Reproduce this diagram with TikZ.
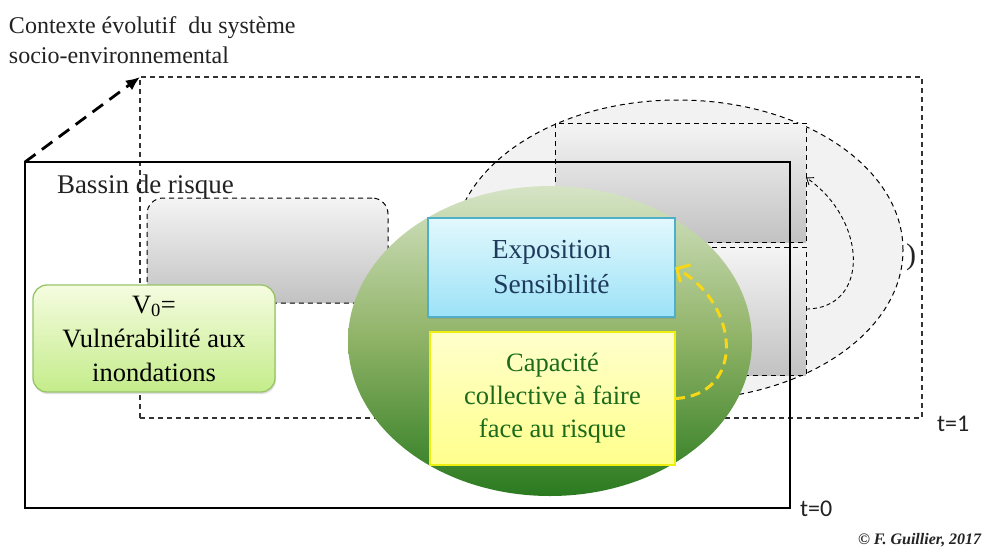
\documentclass[tikz,border=0pt]{standalone}
\usepackage{fontspec}
\setmainfont{Liberation Serif}
\newfontfamily\labelfont{Carlito}
\usetikzlibrary{arrows.meta,shapes.geometric,shadows}

\definecolor{inkgray}{HTML}{222222}
\definecolor{frameline}{HTML}{333333}
\definecolor{ctxfill}{HTML}{F2F2F2}
\definecolor{greytop}{HTML}{F4F4F4}
\definecolor{greybot}{HTML}{C2C2C2}
\definecolor{coretop}{HTML}{D6E4C6}
\definecolor{coremid}{HTML}{8EB265}
\definecolor{corebot}{HTML}{2A7A20}
\definecolor{expotop}{HTML}{E2F8FD}
\definecolor{expobot}{HTML}{9CE2F7}
\definecolor{expoline}{HTML}{4FAFCB}
\definecolor{expotext}{HTML}{1F3B5C}
\definecolor{capatop}{HTML}{FFFFCC}
\definecolor{capabot}{HTML}{FFFF8C}
\definecolor{capaline}{HTML}{EEEE10}
\definecolor{capatext}{HTML}{1B6B1B}
\definecolor{vtop}{HTML}{F5FCE0}
\definecolor{vbot}{HTML}{C4EC8A}
\definecolor{vline}{HTML}{98C468}
\definecolor{arrowyellow}{HTML}{F7D716}

\begin{document}
\begin{tikzpicture}[x=1pt,y=-1pt,
  every node/.style={inner sep=0pt,outer sep=0pt},
  frameone/.style={draw=frameline,line width=1.2pt,dash pattern=on 5pt off 4pt},
  framezero/.style={draw=black,line width=2.8pt},
  greybox/.style={draw=black,line width=1pt,dash pattern=on 5pt off 4pt,
    top color=greytop,bottom color=greybot},
  itembox/.style={align=center,line width=1.3pt},
  softshadow/.style={drop shadow={opacity=0.25,shadow xshift=1pt,shadow yshift=-2pt}},
  plaintext/.style={anchor=base west,text=inkgray}
]
\useasboundingbox (0,0) rectangle (993,547);

% time frames and the evolving context
\node[frameone,minimum width=782pt,minimum height=341pt] (tone) at (531,247.5) {};
\node[ellipse,draw=black,fill=ctxfill,line width=1pt,dash pattern=on 5pt off 4pt,
      minimum width=450pt,minimum height=300pt] (ctx) at (678,250) {};
\node[greybox,minimum width=251pt,minimum height=119pt] (upper) at (680.5,182.5) {};
\node[greybox,minimum width=251pt,minimum height=128pt] (lower) at (680.5,311) {};
\node[greybox,rounded corners=16pt,minimum width=241pt,minimum height=105pt] (past) at (267.5,250.5) {};
\node[framezero,minimum width=765pt,minimum height=346pt] (tzero) at (407.5,335) {};

% feedback loop between the two future states
\draw[line width=0.9pt,dash pattern=on 4pt off 3pt,-{Straight Barb[length=6pt,width=9pt]}]
  ([yshift=2pt]lower.east) .. controls +(64,0) and +(62,43) .. ([yshift=5pt]upper.east);

% core of the vulnerability
\node[ellipse,top color=coretop,bottom color=corebot,middle color=coremid,
      minimum width=404pt,minimum height=310pt] (core) at (550,341) {};
\node[itembox,draw=expoline,top color=expotop,bottom color=expobot,text=expotext,
      minimum width=247pt,minimum height=99pt,softshadow,
      font=\fontsize{27.5}{35}\selectfont] (expo) at (551.5,267.5)
  {Exposition\\Sensibilité};
\node[itembox,draw=capaline,top color=capatop,bottom color=capabot,text=capatext,
      minimum width=245pt,minimum height=133pt,font=\fontsize{26.5}{33}\selectfont] (capa) at (552.5,398.5)
  {Capacité\\collective à faire\\face au risque};
\draw[arrowyellow,line width=3pt,dash pattern=on 10pt off 6pt,
      -{Straight Barb[length=10pt,width=20pt,line width=3pt]}]
  (capa.east) .. controls +(70,-3) and +(66,38) .. (expo.east);

% initial vulnerability
\node[itembox,draw=vline,rounded corners=14pt,top color=vtop,bottom color=vbot,text=black,
      minimum width=242pt,minimum height=107pt,font=\fontsize{26.5}{34}\selectfont,
      softshadow] (vzero) at (154,338.5)
  {V\textsubscript{0}=\\Vulnérabilité aux\\inondations};

% passage from t=0 to t=1
\draw[line width=2.8pt,dash pattern=on 13pt off 8pt,-{Latex[length=14pt,width=12pt]}]
  (tzero.north west) -- (tone.north west);

% labels
\node[plaintext,font=\fontsize{24}{30}\selectfont] (ctxlineone) at (9,33) {Contexte évolutif \ du système};
\node[plaintext,font=\fontsize{24}{30}\selectfont] (ctxlinetwo) at (9,63) {socio-environnemental};
\node[plaintext,font=\fontsize{27}{30}\selectfont] (basin) at (57,193) {Bassin de risque};
\node[text=inkgray,font=\fontsize{30}{30}\selectfont] (paren) at (911,257) {)};
\node[plaintext,font=\labelfont\fontsize{24}{28}\selectfont] (tonelabel) at (937,431) {t=1};
\node[plaintext,font=\labelfont\fontsize{24}{28}\selectfont] (tzerolabel) at (800,516) {t=0};
\node[plaintext,font=\bfseries\itshape\fontsize{16}{18}\selectfont] (credit) at (858,544) {© F. Guillier, 2017};
\end{tikzpicture}
\end{document}
